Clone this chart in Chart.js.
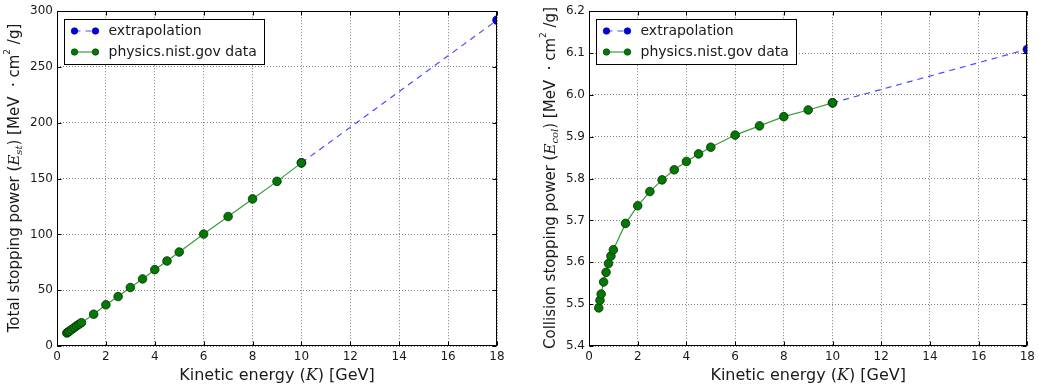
<!DOCTYPE html>
<html>
<head>
<meta charset="utf-8">
<script src="https://cdn.jsdelivr.net/npm/chart.js@4.4.1/dist/chart.umd.min.js"></script>
<style>
  html, body { margin: 0; padding: 0; background: #fff; }
  .wrap { position: absolute; top: 0; height: 392px; }
  #leftWrap { left: 0; width: 520px; }
  #rightWrap { left: 520px; width: 519px; }
</style>
</head>
<body>
<div class="wrap" id="leftWrap"><canvas id="totalChart" width="520" height="392"></canvas></div>
<div class="wrap" id="rightWrap"><canvas id="collChart" width="519" height="392"></canvas></div>
<script>
// ── Data ──
const ENERGY = [0.4, 0.45, 0.5, 0.6, 0.7, 0.8, 0.9, 1, 1.5, 2, 2.5, 3, 3.5, 4, 4.5, 5, 6, 7, 8, 9, 10];
const TOTAL_SP = [11.6, 12.4, 13.2, 14.8, 16.4, 18.0, 19.5, 20.9, 28.5, 36.9, 44.3, 52.4, 60.1, 68.4, 76.2, 84.2, 100.3, 116.0, 131.8, 147.5, 164.1];
const COLL_SP = [5.491, 5.509, 5.524, 5.553, 5.576, 5.597, 5.615, 5.630, 5.693, 5.735, 5.769, 5.797, 5.821, 5.841, 5.859, 5.875, 5.904, 5.926, 5.948, 5.964, 5.981];
const EXTRAP_E = [10, 18];
const EXTRAP_TOTAL = [164.1, 292];
const EXTRAP_COLL = [5.981, 6.109];
const X_TICKS = [0, 2, 4, 6, 8, 10, 12, 14, 16, 18];
const LABEL_EXTRAP = 'extrapolation';
const LABEL_NIST = 'physics.nist.gov data';

const SANS = '"DejaVu Sans", "Liberation Sans", sans-serif';
const SERIF = '"DejaVu Serif", "Liberation Serif", serif';
const TXT = '#1a1a1a';

function pts(xs, ys) {
  return xs.map((x, i) => ({ x: x, y: ys[i] }));
}

// draw a run of text pieces (font, baseline shift) centred on 0,0
function drawRun(ctx, parts) {
  let w = 0;
  parts.forEach(p => { ctx.font = p.f; p.w = ctx.measureText(p.t).width; w += p.w; });
  let cx = -w / 2;
  parts.forEach(p => {
    ctx.font = p.f;
    ctx.fillText(p.t, cx, p.dy || 0);
    cx += p.w;
  });
}

// ── frame, inward ticks, legend and axis titles, drawn matplotlib-ish ──
const sketchPlugin = {
  id: 'sketch',
  afterDatasetsDraw(chart, args, opts) {
    const { ctx, chartArea: a, scales: { x, y } } = chart;
    ctx.save();
    ctx.strokeStyle = '#000';
    ctx.lineWidth = 1;
    ctx.setLineDash([]);
    const L = Math.round(a.left) + 0.5, R = Math.round(a.right) - 0.5;
    const T = Math.round(a.top) + 0.5, B = Math.round(a.bottom) - 0.5;

    ctx.beginPath();
    x.ticks.forEach(t => {
      const px = Math.round(x.getPixelForValue(t.value)) + 0.5;
      ctx.moveTo(px, B); ctx.lineTo(px, B - 4);
      ctx.moveTo(px, T); ctx.lineTo(px, T + 4);
    });
    y.ticks.forEach(t => {
      const py = Math.round(y.getPixelForValue(t.value)) + 0.5;
      ctx.moveTo(L, py); ctx.lineTo(L + 4, py);
      ctx.moveTo(R, py); ctx.lineTo(R - 4, py);
    });
    ctx.stroke();
    ctx.strokeRect(L, T, R - L, B - T);

    // legend box
    const bx = Math.round(a.left + 7) + 0.5, by = Math.round(a.top + 8) + 0.5;
    const bw = 200, bh = 45;
    ctx.fillStyle = '#fff';
    ctx.fillRect(bx, by, bw, bh);
    ctx.strokeRect(bx, by, bw, bh);
    opts.legendOrder.forEach((di, row) => {
      const ds = chart.data.datasets[di];
      const ry = by + 11.5 + row * 21;
      ctx.strokeStyle = ds.borderColor;
      ctx.lineWidth = 1.2;
      ctx.setLineDash(ds.borderDash || []);
      ctx.beginPath();
      ctx.moveTo(bx + 10, ry); ctx.lineTo(bx + 31, ry);
      ctx.stroke();
      ctx.setLineDash([]);
      [bx + 10, bx + 31].forEach(mx => {
        ctx.beginPath();
        ctx.arc(mx, ry, 3.3, 0, Math.PI * 2);
        ctx.fillStyle = ds.pointBackgroundColor;
        ctx.fill();
        ctx.strokeStyle = ds.pointBorderColor;
        ctx.lineWidth = 0.6;
        ctx.stroke();
      });
      ctx.fillStyle = TXT;
      ctx.font = '14px ' + SANS;
      ctx.textAlign = 'left';
      ctx.textBaseline = 'middle';
      ctx.fillText(ds.label, bx + 44, ry + 0.5);
    });

    // axis titles
    ctx.fillStyle = TXT;
    ctx.textAlign = 'left';
    ctx.textBaseline = 'middle';
    ctx.save();
    ctx.translate((a.left + a.right) / 2, 376);
    drawRun(ctx, opts.xTitle);
    ctx.restore();
    ctx.save();
    ctx.translate(opts.yTitleX, opts.yTitleY);
    ctx.rotate(-Math.PI / 2);
    drawRun(ctx, opts.yTitle);
    ctx.restore();
    ctx.restore();
  }
};

const F16 = '16px ' + SANS;
const xTitle = [
  { t: 'Kinetic energy (', f: F16 },
  { t: 'K', f: 'italic 16px ' + SERIF },
  { t: ') [GeV]', f: F16 }
];
function yTitle(name, sub) {
  const F = '15px ' + SANS;
  return [
    { t: name + ' (', f: F },
    { t: 'E', f: 'italic 15px ' + SERIF },
    { t: sub, f: 'italic 10px ' + SERIF, dy: 4 },
    { t: ') [MeV  \u00b7 cm', f: F },
    { t: '2', f: '9px ' + SANS, dy: -7 },
    { t: ' /g]', f: F }
  ];
}

function makeChart(id, opt) {
  return new Chart(document.getElementById(id), {
    type: 'line',
    data: {
      datasets: [
        {
          label: LABEL_NIST,
          data: pts(ENERGY, opt.values),
          borderColor: 'rgba(0,128,0,0.78)',
          borderWidth: 1.2,
          pointBackgroundColor: '#007a00',
          pointBorderColor: '#0d2a0d',
          pointBorderWidth: 0.8,
          pointRadius: 4.3,
          order: 0, clip: 0
        },
        {
          label: LABEL_EXTRAP,
          data: pts(EXTRAP_E, opt.extrap),
          borderColor: 'rgba(0,0,255,0.7)',
          borderWidth: 1.2,
          borderDash: [6, 5],
          pointBackgroundColor: '#0000ee',
          pointBorderColor: '#00005a',
          pointBorderWidth: 0.8,
          pointRadius: 4.3,
          order: 1, clip: 0
        }
      ]
    },
    options: {
      responsive: false,
      animation: false,
      layout: { padding: { top: opt.top, right: opt.right, left: 0, bottom: 0 } },
      plugins: {
        legend: { display: false },
        tooltip: { enabled: false },
        sketch: { legendOrder: [1, 0], xTitle: xTitle, yTitle: opt.yTitle, yTitleX: opt.yTitleX, yTitleY: opt.yTitleY }
      },
      scales: {
        x: {
          type: 'linear', min: 0, max: 18,
          afterBuildTicks: s => { s.ticks = X_TICKS.map(v => ({ value: v })); },
          afterFit: s => { s.height = 46; },
          grid: { color: 'rgba(0,0,0,0.5)', lineWidth: 1, drawTicks: false },
          border: { display: false, dash: [1, 2] },
          ticks: { padding: 4, color: TXT, font: { size: 12, family: SANS }, maxRotation: 0 }
        },
        y: {
          min: opt.yMin, max: opt.yMax,
          afterBuildTicks: s => { s.ticks = opt.yTicks.map(v => ({ value: v })); },
          afterFit: s => { s.width = opt.yWidth; },
          grid: { color: 'rgba(0,0,0,0.5)', lineWidth: 1, drawTicks: false },
          border: { display: false, dash: [1, 2] },
          ticks: { padding: 4, color: TXT, font: { size: 12, family: SANS }, callback: opt.fmt }
        }
      }
    },
    plugins: [sketchPlugin]
  });
}

const TOTAL_TICKS = [0, 50, 100, 150, 200, 250, 300];
const COLL_TICKS = [5.4, 5.5, 5.6, 5.7, 5.8, 5.9, 6.0, 6.1, 6.2];

makeChart('totalChart', {
  values: TOTAL_SP, extrap: EXTRAP_TOTAL,
  yMin: 0, yMax: 300, yTicks: TOTAL_TICKS, fmt: v => String(v),
  top: 9, right: 23, yWidth: 57, yTitleX: 15, yTitleY: 178,
  yTitle: yTitle('Total stopping power', 'st')
});

makeChart('collChart', {
  values: COLL_SP, extrap: EXTRAP_COLL,
  yMin: 5.4, yMax: 6.2, yTicks: COLL_TICKS, fmt: v => Number(v).toFixed(1),
  top: 8, right: 10, yWidth: 69, yTitleX: 31, yTitleY: 178,
  yTitle: yTitle('Collision stopping power', 'col')
});
</script>
</body>
</html>
